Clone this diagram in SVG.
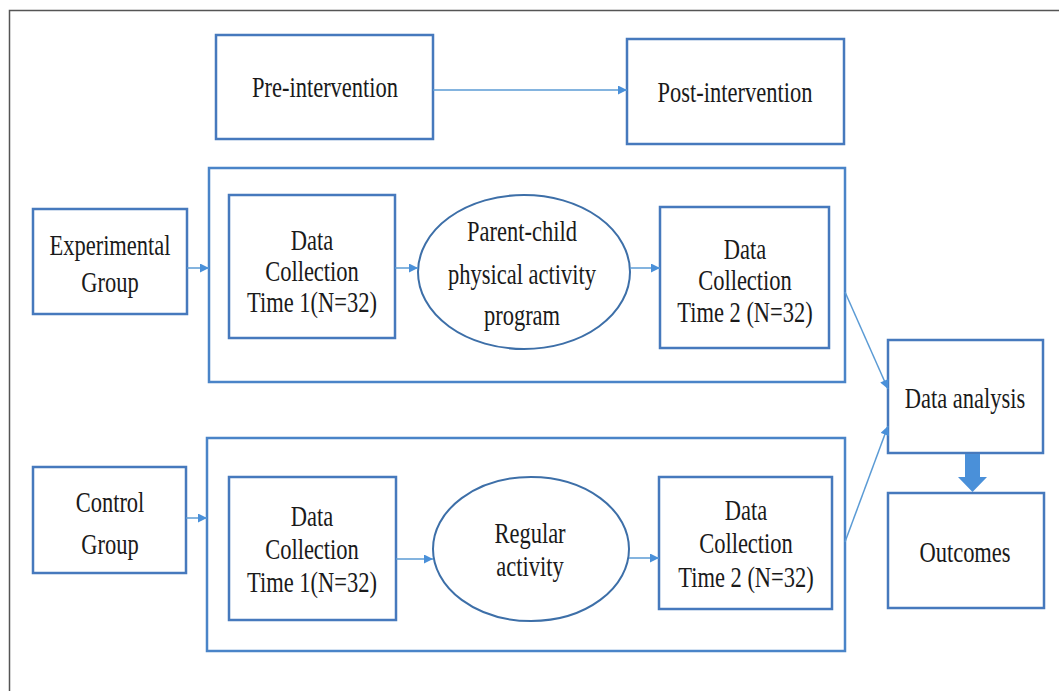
<svg xmlns="http://www.w3.org/2000/svg" width="1059" height="691" viewBox="0 0 1059 691">
<defs>
<style>
.box{fill:#ffffff;stroke:#4679bd;stroke-width:2.5}
.grp{fill:none;stroke:#4a84c8;stroke-width:2.5}
.ell{fill:#ffffff;stroke:#3d6fa8;stroke-width:2}
.con{fill:none;stroke:#5b9bd5;stroke-width:1.5}
.t{font-family:"Liberation Serif","Times New Roman",serif;font-size:30px;fill:#1a1a1a;text-anchor:middle}
</style>
<marker id="ah" viewBox="0 0 10 10" refX="10" refY="5" markerWidth="10" markerHeight="9" markerUnits="userSpaceOnUse" orient="auto">
<path d="M0,0 L10,5 L0,10 z" fill="#4a90d9"/>
</marker>
</defs>
<rect width="1059" height="691" fill="#ffffff"/>
<path d="M9.5,691 V10.5 H1059" fill="none" stroke="#555555" stroke-width="1.5"/>

<g id="pre">
<rect class="box" x="216" y="35" width="217" height="104"/>
<text class="t" transform="translate(325 97) scale(.75 1)">Pre-intervention</text>
</g>
<g id="post">
<rect class="box" x="627" y="39" width="217" height="105"/>
<text class="t" transform="translate(735 102) scale(.75 1)">Post-intervention</text>
</g>

<g id="exp-frame">
<rect class="grp" x="209" y="168" width="636" height="214"/>
</g>
<g id="exp-group">
<rect class="box" x="33" y="209" width="154" height="105"/>
<text class="t" transform="translate(110 0) scale(.75 1)"><tspan x="0" y="255">Experimental</tspan><tspan x="0" y="292">Group</tspan></text>
</g>
<g id="exp-dc1">
<rect class="box" x="229" y="195" width="166" height="143"/>
<text class="t" transform="translate(312 0) scale(.75 1)"><tspan x="0" y="250">Data</tspan><tspan x="0" y="281">Collection</tspan><tspan x="0" y="312">Time 1(N=32)</tspan></text>
</g>
<g id="exp-program">
<ellipse class="ell" cx="524" cy="272" rx="106" ry="77"/>
<text class="t" transform="translate(522 0) scale(.75 1)"><tspan x="0" y="241">Parent-child</tspan><tspan x="0" y="284">physical activity</tspan><tspan x="0" y="325">program</tspan></text>
</g>
<g id="exp-dc2">
<rect class="box" x="660" y="207" width="169" height="141"/>
<text class="t" transform="translate(745 0) scale(.75 1)"><tspan x="0" y="259">Data</tspan><tspan x="0" y="290">Collection</tspan><tspan x="0" y="322">Time 2 (N=32)</tspan></text>
</g>

<g id="ctl-frame">
<rect class="grp" x="207" y="438" width="638" height="213"/>
</g>
<g id="ctl-group">
<rect class="box" x="33" y="467" width="153" height="106"/>
<text class="t" transform="translate(110 0) scale(.75 1)"><tspan x="0" y="512">Control</tspan><tspan x="0" y="554">Group</tspan></text>
</g>
<g id="ctl-dc1">
<rect class="box" x="229" y="477" width="167" height="143"/>
<text class="t" transform="translate(312 0) scale(.75 1)"><tspan x="0" y="526">Data</tspan><tspan x="0" y="559">Collection</tspan><tspan x="0" y="592">Time 1(N=32)</tspan></text>
</g>
<g id="ctl-regular">
<ellipse class="ell" cx="531" cy="549" rx="98" ry="72"/>
<text class="t" transform="translate(530 0) scale(.75 1)"><tspan x="0" y="543">Regular</tspan><tspan x="0" y="576">activity</tspan></text>
</g>
<g id="ctl-dc2">
<rect class="box" x="659" y="477" width="173" height="132"/>
<text class="t" transform="translate(746 0) scale(.75 1)"><tspan x="0" y="520">Data</tspan><tspan x="0" y="553">Collection</tspan><tspan x="0" y="587">Time 2 (N=32)</tspan></text>
</g>

<g id="analysis">
<rect class="box" x="888" y="340" width="155" height="113"/>
<text class="t" transform="translate(965 408) scale(.75 1)">Data analysis</text>
</g>
<g id="outcomes">
<rect class="box" x="888" y="493" width="156" height="115"/>
<text class="t" transform="translate(965 562) scale(.75 1)">Outcomes</text>
</g>

<g id="connectors">
<line class="con" x1="433" y1="90" x2="627" y2="90" marker-end="url(#ah)"/>
<line class="con" x1="187" y1="268" x2="209" y2="268" marker-end="url(#ah)"/>
<line class="con" x1="395" y1="268" x2="418" y2="268" marker-end="url(#ah)"/>
<line class="con" x1="630" y1="268" x2="660" y2="268" marker-end="url(#ah)"/>
<line class="con" x1="845" y1="292" x2="888" y2="389" marker-end="url(#ah)"/>
<line class="con" x1="186" y1="518" x2="207" y2="518" marker-end="url(#ah)"/>
<line class="con" x1="396" y1="559" x2="433" y2="559" marker-end="url(#ah)"/>
<line class="con" x1="629" y1="558" x2="659" y2="558" marker-end="url(#ah)"/>
<line class="con" x1="845" y1="542" x2="888" y2="426" marker-end="url(#ah)"/>
<polygon points="965,454 980,454 980,477 987,477 972.5,492 958,477 965,477" fill="#4a90d9"/>
</g>
</svg>
